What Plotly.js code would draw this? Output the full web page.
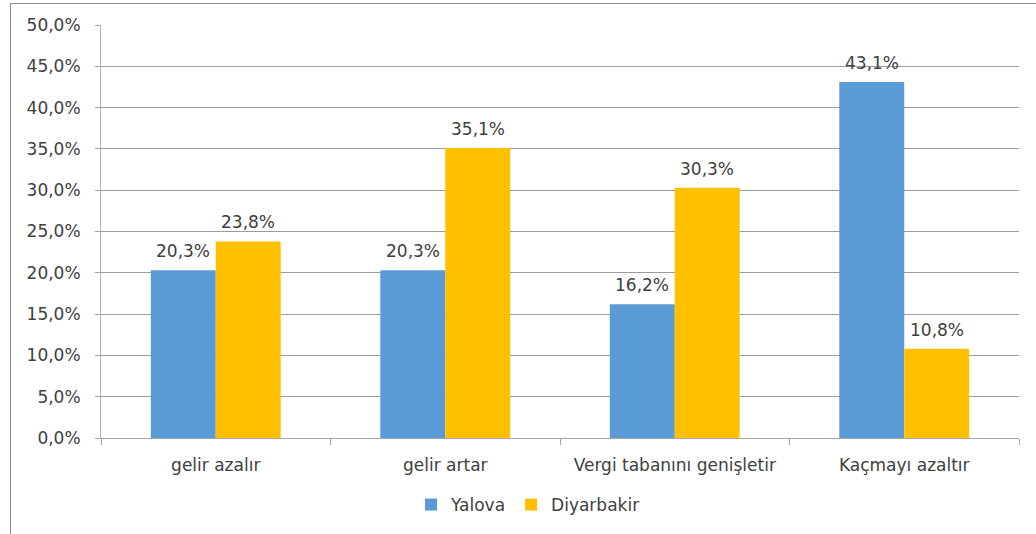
<!DOCTYPE html>
<html><head><meta charset="utf-8">
<script src="https://cdn.plot.ly/plotly-3.0.1.min.js"></script>
<style>
html,body{margin:0;padding:0;background:#fff;}
#wrap{position:relative;width:1036px;height:534px;overflow:hidden;}
#chart{position:absolute;left:0;top:0;width:1036px;height:534px;}
#frame{position:absolute;left:10px;top:3px;width:1100px;height:600px;border-left:1px solid #8c8c8c;border-top:1px solid #8c8c8c;pointer-events:none;}
</style>
</head><body>
<div id="wrap"><div id="chart"></div><div id="frame"></div></div>
<script>
const categories = ["gelir azalır", "gelir artar", "Vergi tabanını genişletir", "Kaçmayı azaltır"];
const yalova = [20.3, 20.3, 16.2, 43.1];
const diyarbakir = [23.8, 35.1, 30.3, 10.8];
const yTicks = [0, 5, 10, 15, 20, 25, 30, 35, 40, 45, 50];

const font = "'DejaVu Sans', Verdana, sans-serif";
const txt = '#404040';
const fs = 17;
const fmt = v => v.toFixed(1).replace('.', ',') + '%';

const traces = [
  {type:'bar', name:'Yalova', x:categories, y:yalova, marker:{color:'#5B9BD5'}},
  {type:'bar', name:'Diyarbakir', x:categories, y:diyarbakir, marker:{color:'#FFC000'}}
];

const annotations = [];
categories.forEach((c, i) => {
  annotations.push({x:c, y:yalova[i], xref:'x', yref:'y', text:fmt(yalova[i]), showarrow:false,
    xshift:-32.5, yshift:7, yanchor:'bottom', font:{family:font, size:fs, color:txt}});
  annotations.push({x:c, y:diyarbakir[i], xref:'x', yref:'y', text:fmt(diyarbakir[i]), showarrow:false,
    xshift:32.5, yshift:7, yanchor:'bottom', font:{family:font, size:fs, color:txt}});
});

const layout = {
  width:1036, height:534,
  margin:{l:101, r:17, t:25, b:96},
  paper_bgcolor:'rgba(0,0,0,0)', plot_bgcolor:'#fff',
  separators:',.',
  barmode:'group', bargap:0.434, bargroupgap:0,
  font:{family:font, size:fs, color:txt},
  showlegend:true,
  annotations: annotations,
  legend:{orientation:'h', x:528/1036, xanchor:'center', xref:'container',
          y:1-505/534, yanchor:'middle', yref:'container',
          font:{family:font, size:fs, color:txt}, itemwidth:30, tracegroupgap:0},
  xaxis:{type:'category', tickson:'boundaries', ticks:'outside', ticklen:6, tickcolor:'#a6a6a6',
         showline:true, linecolor:'#a6a6a6', linewidth:1, showgrid:false,
         ticklabelstandoff:12, tickfont:{family:font, size:fs, color:txt}},
  yaxis:{range:[0,50], tickmode:'array', tickvals:yTicks, ticktext:yTicks.map(fmt),
         ticks:'outside', ticklen:5, tickcolor:'#a6a6a6',
         showline:true, linecolor:'#b4b4b4', linewidth:1,
         showgrid:true, gridcolor:'#9c9c9c', gridwidth:1, zeroline:false,
         tickfont:{family:font, size:fs, color:txt}, ticklabelstandoff:11}
};

Plotly.newPlot('chart', traces, layout, {displayModeBar:false, staticPlot:true});
</script>
</body></html>
